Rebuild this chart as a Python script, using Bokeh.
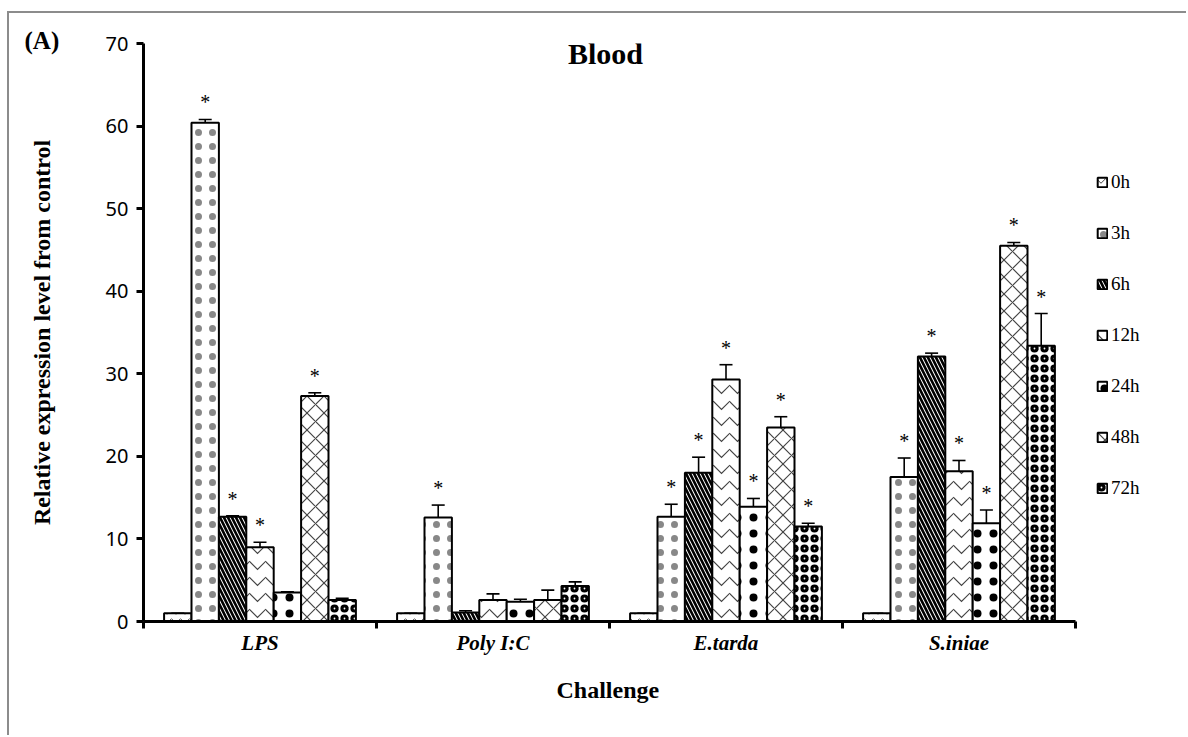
from bokeh.plotting import figure
from bokeh.models import (ColumnDataSource, Range1d, FixedTicker, Whisker, TeeHead,
                          LabelSet, Label, Legend, LegendItem, Title)
from bokeh.embed import file_html
from bokeh.resources import INLINE

# Challenge groups and sampling times
challenges = ["LPS", "Poly I:C", "E.tarda", "S.iniae"]
times = ["0h", "3h", "6h", "12h", "24h", "48h", "72h"]

# Mean relative expression (fold change vs. control), one list per time point
h0 = [1.0, 1.0, 1.0, 1.0]
h3 = [60.4, 12.6, 12.7, 17.5]
h6 = [12.7, 1.1, 18.0, 32.1]
h12 = [9.0, 2.6, 29.3, 18.2]
h24 = [3.5, 2.4, 13.9, 11.9]
h48 = [27.3, 2.6, 23.5, 45.5]
h72 = [2.6, 4.3, 11.5, 33.4]

# Standard deviations
e0 = [0.0, 0.0, 0.0, 0.0]
e3 = [0.4, 1.5, 1.5, 2.3]
e6 = [0.1, 0.2, 1.9, 0.4]
e12 = [0.6, 0.75, 1.8, 1.3]
e24 = [0.1, 0.3, 1.0, 1.6]
e48 = [0.4, 1.2, 1.3, 0.4]
e72 = [0.2, 0.5, 0.4, 3.9]

# Significant difference from 0h (asterisk)
s0 = [False, False, False, False]
s3 = [True, True, True, True]
s6 = [True, False, True, True]
s12 = [True, False, True, True]
s24 = [False, False, True, True]
s48 = [True, False, True, True]
s72 = [False, False, True, True]

y_ticks = [0, 10, 20, 30, 40, 50, 60, 70]

means = [h0, h3, h6, h12, h24, h48, h72]
errors = [e0, e3, e6, e12, e24, e48, e72]
signif = [s0, s3, s6, s12, s24, s48, s72]

# Fill pattern of each time point
hatches = [
    dict(hatch_pattern="horizontal_wave", hatch_color="#444444", hatch_scale=9, hatch_weight=1),
    dict(hatch_pattern="dot", hatch_color="#888888", hatch_scale=14, hatch_weight=1.1),
    dict(hatch_pattern="left_diagonal_line", hatch_color="black", hatch_scale=8, hatch_weight=2.6),
    dict(hatch_pattern="horizontal_wave", hatch_color="#444444", hatch_scale=16, hatch_weight=1.2),
    dict(hatch_pattern="dot", hatch_color="black", hatch_scale=16, hatch_weight=8),
    dict(hatch_pattern="diagonal_cross", hatch_color="#444444", hatch_scale=17, hatch_weight=1.2),
    dict(hatch_pattern="ring", hatch_color="black", hatch_scale=10, hatch_weight=3.2),
]

bar_w = 0.1176
n_groups = len(challenges)

# The plotting frame runs past the last group so that the legend fits inside it;
# the x axis itself is bounded to the four groups.
x_end = n_groups * 1040 / 932

p = figure(width=1179, height=724, x_range=Range1d(0, x_end), y_range=Range1d(0, 70),
           output_backend="svg", toolbar_location=None,
           min_border_left=134, min_border_right=5, min_border_top=30, min_border_bottom=116)
p.margin = (11, 0, 0, 7)
p.styles = {"border-top": "2px solid #8c8c8c", "border-left": "2px solid #8c8c8c"}
p.outline_line_color = None
p.xgrid.visible = False
p.ygrid.visible = False
p.background_fill_color = "white"
p.border_fill_color = "white"

legend_items = []
for i, t in enumerate(times):
    xs = [c + 0.5 + (i - 3) * bar_w for c in range(n_groups)]
    tops = means[i]
    uppers = [m + e for m, e in zip(means[i], errors[i])]
    src = ColumnDataSource(dict(x=xs, top=tops, upper=uppers))
    r = p.vbar(x="x", top="top", width=bar_w, source=src, fill_color="white",
               line_color="black", line_width=2, **hatches[i])
    legend_items.append(LegendItem(label=t, renderers=[r]))

    p.add_layout(Whisker(source=src, base="x", lower="top", upper="upper", dimension="height",
                         line_color="black", line_width=1.6, lower_head=None,
                         upper_head=TeeHead(size=13, line_color="black", line_width=1.6)))

    sx = [x for x, s in zip(xs, signif[i]) if s]
    sy = [u for u, s in zip(uppers, signif[i]) if s]
    star_src = ColumnDataSource(dict(x=sx, y=sy, text=["*"] * len(sx)))
    p.add_layout(LabelSet(source=star_src, x="x", y="y", text="text", y_offset=17,
                          text_align="center", text_baseline="middle",
                          text_font="DejaVu Sans", text_font_size="20px", text_color="black"))

# Y axis
p.yaxis.ticker = FixedTicker(ticks=y_ticks)
p.yaxis.axis_line_width = 3
p.yaxis.major_tick_line_width = 3
p.yaxis.major_tick_out = 7
p.yaxis.major_tick_in = 0
p.yaxis.minor_tick_line_color = None
p.yaxis.major_label_text_font = "Noto Sans"
p.yaxis.major_label_text_font_size = "20px"
p.yaxis.major_label_text_color = "black"
p.yaxis.major_label_standoff = 8
p.yaxis.axis_label = "Relative expression level from control"
p.yaxis.axis_label_text_font = "Liberation Serif"
p.yaxis.axis_label_text_font_style = "bold"
p.yaxis.axis_label_text_font_size = "24px"
p.yaxis.axis_label_text_color = "black"
p.yaxis.axis_label_standoff = 48

# X axis: group names at centers, tick marks at group boundaries
p.xaxis.bounds = (0, n_groups)
p.xaxis.ticker = FixedTicker(ticks=[c + 0.5 for c in range(n_groups)],
                             minor_ticks=list(range(n_groups + 1)))
p.xaxis.major_label_overrides = {c + 0.5: name for c, name in enumerate(challenges)}
p.xaxis.axis_line_width = 3
p.xaxis.major_tick_line_color = None
p.xaxis.major_tick_out = 0
p.xaxis.major_tick_in = 0
p.xaxis.minor_tick_line_width = 3
p.xaxis.minor_tick_out = 7
p.xaxis.minor_tick_in = 0
p.xaxis.major_label_text_font = "Liberation Serif"
p.xaxis.major_label_text_font_style = "bold italic"
p.xaxis.major_label_text_font_size = "21px"
p.xaxis.major_label_text_color = "black"
p.xaxis.major_label_standoff = 2

# X axis title, centred under the four groups (the frame extends to the legend)
p.add_layout(Title(text="Challenge", align="left", offset=413, standoff=35,
                   text_font="Liberation Serif", text_font_style="bold",
                   text_font_size="24px", text_color="black"), "below")

# Chart title inside the frame
p.add_layout(Label(x=n_groups / 2 - 0.017, y=68.8, text="Blood", text_align="center",
                   text_baseline="middle", text_font="Liberation Serif",
                   text_font_style="bold", text_font_size="30px", text_color="black"))

# Panel tag, to the left of the top of the y axis
p.add_layout(Title(text="(A)", align="left", offset=-119, standoff=-20,
                   text_font="Liberation Serif", text_font_style="bold",
                   text_font_size="25px", text_color="black"), "above")

legend = Legend(items=legend_items, location=(953, 122), orientation="vertical",
                glyph_width=12, glyph_height=12, label_height=20, spacing=29,
                label_standoff=3, padding=0, margin=0,
                label_text_font="Liberation Serif", label_text_font_size="19px",
                label_text_color="black", border_line_color=None,
                background_fill_alpha=0)
p.add_layout(legend)

open("out.html", "w").write(file_html(p, INLINE))
